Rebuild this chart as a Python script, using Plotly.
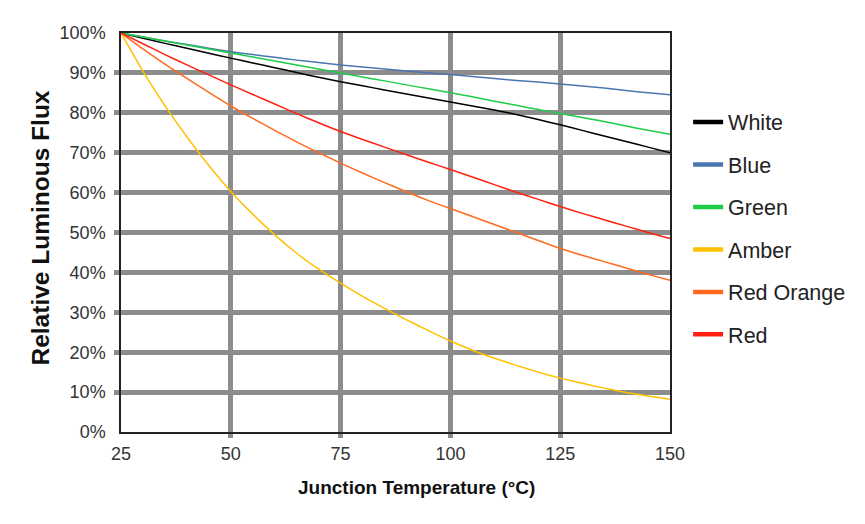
import plotly.graph_objects as go

temps = [25, 30, 35, 40, 45, 50, 55, 60, 65, 70, 75, 80, 85, 90, 95, 100,
         105, 110, 115, 120, 125, 130, 135, 140, 145, 150]

white = [100, 98.7, 97.4, 96.2, 94.9, 93.7, 92.5, 91.3, 90.1, 88.9, 87.8, 86.8, 85.7,
         84.7, 83.7, 82.7, 81.7, 80.7, 79.6, 78.3, 77.0, 75.6, 74.2, 72.8, 71.4, 70.0]
blue = [100, 99.0, 98.0, 97.1, 96.2, 95.3, 94.6, 93.9, 93.2, 92.6, 92.0, 91.5, 91.0,
        90.5, 90.0, 89.6, 89.1, 88.6, 88.1, 87.7, 87.2, 86.7, 86.2, 85.6, 85.0, 84.5]
green = [100, 99.0, 98.0, 97.0, 96.0, 95.0, 94.0, 93.0, 92.0, 91.0, 90.0, 89.0, 88.0,
         87.0, 86.0, 85.0, 84.0, 82.9, 81.9, 80.8, 79.8, 78.8, 77.8, 76.7, 75.6, 74.6]
amber = [100, 90.4, 81.8, 74.0, 66.8, 60.3, 54.6, 49.4, 44.8, 40.8, 37.3, 34.0, 31.0,
         28.1, 25.4, 22.8, 20.5, 18.5, 16.7, 15.0, 13.5, 12.2, 11.0, 9.9, 9.0, 8.2]
red_orange = [100, 96.0, 92.2, 88.6, 85.1, 81.7, 78.6, 75.6, 72.7, 70.0, 67.4, 64.9, 62.5,
              60.2, 58.0, 56.0, 54.0, 52.0, 50.0, 48.0, 46.0, 44.3, 42.7, 41.1, 39.5, 38.0]
red = [100, 97.3, 94.6, 92.0, 89.5, 87.0, 84.6, 82.2, 79.8, 77.5, 75.3, 73.3, 71.4,
       69.5, 67.6, 65.8, 63.9, 62.0, 60.1, 58.3, 56.5, 54.8, 53.2, 51.6, 50.0, 48.5]

series_names = ["White", "Blue", "Green", "Amber", "Red Orange", "Red"]
series_values = [white, blue, green, amber, red_orange, red]
series_colors = ["#000000", "#4a76b0", "#1fcc46", "#ffc000", "#ff6a1f", "#ff2010"]

x_ticks = [25, 50, 75, 100, 125, 150]
x_grid = [50, 75, 100, 125]
y_ticks = [0, 10, 20, 30, 40, 50, 60, 70, 80, 90, 100]
y_tick_labels = [f"{v}%" for v in y_ticks]
y_grid = [10, 20, 30, 40, 50, 60, 70, 80, 90]

FONT = "Liberation Sans, Arial, sans-serif"
GRID = "#8c8c8c"

fig = go.Figure()
for i, (name, vals, col) in enumerate(zip(series_names, series_values, series_colors)):
    fig.add_trace(go.Scatter(x=temps, y=vals, mode="lines", name=name,
                             line=dict(color=col, width=1.5, shape="spline", smoothing=0.5),
                             showlegend=False))
    # legend-only entry with a thicker sample line
    fig.add_trace(go.Scatter(x=[None], y=[None], mode="lines", name=name,
                             line=dict(color=col, width=4.5),
                             legendgroup=f"g{i}", showlegend=True))

fig.update_layout(
    width=865, height=524,
    margin=dict(l=113, r=203, t=25, b=100),
    paper_bgcolor="white", plot_bgcolor="white",
    font=dict(family=FONT, color="#333333"),
    legend=dict(x=1.033, y=0.828, xanchor="left", yanchor="top",
                font=dict(size=21.5, color="#222222"),
                tracegroupgap=11.5, itemwidth=30, bgcolor="rgba(0,0,0,0)"),
    annotations=[
        dict(text="<b>Junction Temperature (°C)</b>", xref="paper", yref="paper",
             x=0.538, y=0, yshift=-55, xanchor="center", yanchor="middle",
             showarrow=False, font=dict(family=FONT, size=19, color="#111111")),
        dict(text="<b>Relative Luminous Flux</b>", xref="paper", yref="paper",
             x=0, y=0.51, xshift=-80, xanchor="center", yanchor="middle", textangle=-90,
             showarrow=False, font=dict(family=FONT, size=24.5, color="#111111")),
    ],
)

fig.update_xaxes(range=[25, 150], tickvals=x_ticks, showgrid=False, zeroline=False,
                 ticks="outside", ticklen=5, tickcolor="rgba(0,0,0,0)",
                 tickfont=dict(size=18, color="#333333"),
                 showline=True, linecolor="#222222", linewidth=1.5, mirror=True,
                 minor=dict(tickvals=x_grid, showgrid=True, gridcolor=GRID, gridwidth=5,
                            ticks="outside", ticklen=4, tickwidth=5, tickcolor=GRID))
fig.update_yaxes(range=[0, 100], tickvals=y_ticks, ticktext=y_tick_labels, showgrid=False,
                 zeroline=False, ticks="outside", ticklen=10, tickcolor="rgba(0,0,0,0)",
                 tickfont=dict(size=18, color="#333333"),
                 showline=True, linecolor="#222222", linewidth=1.5, mirror=True,
                 minor=dict(tickvals=y_grid, showgrid=True, gridcolor=GRID, gridwidth=5,
                            ticks="outside", ticklen=5, tickwidth=5, tickcolor=GRID))

fig.write_html("out.html")
